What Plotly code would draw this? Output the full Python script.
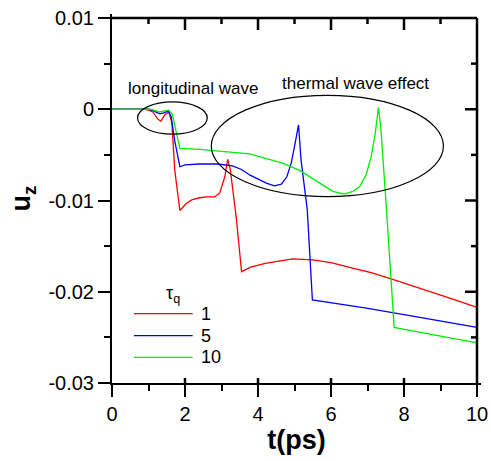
import plotly.graph_objects as go

# ---- data ----
t_tau1 = [0, 0.9, 1.0, 1.12, 1.26, 1.34, 1.45, 1.56, 1.64, 1.72, 1.86, 1.95, 2.04, 2.2, 2.4, 2.6,
          2.81, 2.95, 3.09, 3.17, 3.24, 3.3, 3.41, 3.55, 3.8, 4.2, 4.6, 4.95, 5.5, 6.0, 6.59,
          7.1, 7.65, 8.2, 8.78, 9.4, 10]
u_tau1 = [0, 0, -0.0001, -0.0003, -0.0011, -0.0013, -0.0006, -0.0003, -0.0015, -0.0067, -0.0111,
          -0.0107, -0.0103, -0.0099, -0.0097, -0.0096, -0.0096, -0.0092, -0.0074, -0.0055, -0.0066,
          -0.0085, -0.0121, -0.0178, -0.0173, -0.0169, -0.0166, -0.0164, -0.0165, -0.0168, -0.0174,
          -0.0179, -0.0186, -0.0193, -0.0201, -0.0209, -0.0217]

t_tau5 = [0, 1.0, 1.15, 1.31, 1.42, 1.54, 1.62, 1.72, 1.86, 2.0, 2.4, 2.9, 3.3, 3.55, 3.77, 4.23,
          4.45, 4.64, 4.79, 4.91, 5.0, 5.11, 5.18, 5.35, 5.49, 6.0, 6.97, 8.0, 9.0, 10]
u_tau5 = [0, 0, -0.0002, -0.0005, -0.0004, -0.0002, -0.0008, -0.0035, -0.0063, -0.0061, -0.0060,
          -0.0060, -0.0062, -0.0066, -0.0072, -0.0081, -0.0084, -0.0082, -0.0074, -0.0059, -0.0041,
          -0.0017, -0.0056, -0.0110, -0.0209, -0.0212, -0.0218, -0.0225, -0.0232, -0.0239]

t_tau10 = [0, 1.05, 1.3, 1.42, 1.55, 1.65, 1.75, 1.86, 2.4, 3.3, 3.77, 4.23, 4.68, 5.14, 5.5, 5.77,
           6.05, 6.37, 6.6, 6.78, 6.96, 7.1, 7.21, 7.3, 7.37, 7.52, 7.69, 7.73, 8.78, 10]
u_tau10 = [0, 0, -0.0003, -0.0002, -0.0001, -0.0005, -0.0025, -0.0043, -0.0044, -0.0047, -0.0049,
           -0.0054, -0.0059, -0.0067, -0.0076, -0.0083, -0.0090, -0.0093, -0.0090, -0.0085, -0.0072,
           -0.0052, -0.0027, 0.0002, -0.0023, -0.0110, -0.0223, -0.0239, -0.0247, -0.0256]

series_names = ["1", "5", "10"]
series_t = [t_tau1, t_tau5, t_tau10]
series_u = [u_tau1, u_tau5, u_tau10]
series_colors = ["#ff0000", "#0000ff", "#00ee00"]

y_tickvals = [-0.03, -0.02, -0.01, 0, 0.01]
y_ticktext = ["-0.03", "-0.02", "-0.01", "0", "0.01"]
x_tickvals = [0, 2, 4, 6, 8, 10]
x_ticktext = ["0", "2", "4", "6", "8", "10"]
x_minorvals = [1, 3, 5, 7, 9]
y_minorvals = [-0.025, -0.015, -0.005, 0.005]

FONT = "Liberation Sans, Arial, sans-serif"

X_MIN, X_MAX = 0, 10
Y_MIN, Y_MAX = -0.03, 0.01
FRAME_PX = 365.0   # frame size in pixels
PAD = 4            # plot area reaches a few px past the frame on top/right
AREA_PX = FRAME_PX + PAD
XPP = (X_MAX - X_MIN) / FRAME_PX
YPP = (Y_MAX - Y_MIN) / FRAME_PX
EDGE = FRAME_PX / AREA_PX       # frame edge in paper units
TPX = 1.0 / AREA_PX             # one pixel in paper units

fig = go.Figure()
for name, tt, uu, col in zip(series_names, series_t, series_u, series_colors):
    fig.add_trace(go.Scatter(x=tt, y=uu, mode="lines", name=name,
                             line=dict(color=col, width=1.3), showlegend=False))

common = dict(showgrid=False, zeroline=False, tickcolor="black", tickwidth=2, automargin=False,
              showline=True, linecolor="black", linewidth=2)

fig.update_layout(
    width=491, height=461,
    margin=dict(l=112, r=491 - 112 - int(AREA_PX), t=461 - 78 - int(AREA_PX), b=78),
    paper_bgcolor="white", plot_bgcolor="white",
    font=dict(family=FONT, color="black", size=20),
    xaxis=dict(range=[X_MIN, X_MAX + PAD * XPP], tickmode="array", tickvals=x_tickvals,
               ticktext=x_ticktext, ticks="outside", ticklen=12,
               title=dict(text="<b>t(ps)</b>", font=dict(size=27), standoff=6),
               minor=dict(ticks="outside", ticklen=6, tickwidth=2, tickcolor="black", dtick=1, tick0=0),
               **common),
    yaxis=dict(range=[Y_MIN, Y_MAX + PAD * YPP], tickmode="array", tickvals=y_tickvals,
               ticktext=y_ticktext, ticks="outside", ticklen=12,
               title=dict(text="<b>u<sub>z</sub></b>", font=dict(size=27), standoff=10),
               minor=dict(ticks="outside", ticklen=6, tickwidth=2, tickcolor="black", dtick=0.005, tick0=0),
               **common),
)

# top and right sides of the frame (paper coordinates)
frame = dict(color="#000000", width=2.5)
fig.add_shape(type="line", xref="paper", yref="paper", x0=0, x1=EDGE, y0=EDGE, y1=EDGE,
              line=frame, layer="above")
fig.add_shape(type="line", xref="paper", yref="paper", x0=EDGE, x1=EDGE, y0=0, y1=EDGE,
              line=frame, layer="above")
# inward ticks on the top and right sides at the axis tick values
for v in x_tickvals[1:-1]:
    fig.add_shape(type="line", xref="x", yref="paper", x0=v, x1=v, y0=EDGE, y1=EDGE - 12 * TPX,
                  line=frame, layer="above")
    fig.add_shape(type="line", xref="x", yref="paper", x0=v, x1=v, y0=0, y1=5 * TPX,
                  line=frame, layer="above")
for v in x_minorvals:
    fig.add_shape(type="line", xref="x", yref="paper", x0=v, x1=v, y0=EDGE, y1=EDGE - 6 * TPX,
                  line=frame, layer="above")
for v in y_tickvals[1:-1]:
    fig.add_shape(type="line", xref="paper", yref="y", x0=EDGE, x1=EDGE - 12 * TPX, y0=v, y1=v,
                  line=frame, layer="above")
for v in y_minorvals:
    fig.add_shape(type="line", xref="paper", yref="y", x0=EDGE, x1=EDGE - 6 * TPX, y0=v, y1=v,
                  line=frame, layer="above")

# ellipses highlighting the wave effects
fig.add_shape(type="circle", xref="x", yref="y", x0=0.70, x1=2.61, y0=-0.00273, y1=0.0008,
              line=dict(color="black", width=1.2))
fig.add_shape(type="circle", xref="x", yref="y", x0=2.72, x1=9.08, y0=-0.00958, y1=0.00153,
              line=dict(color="black", width=1.2))
fig.add_annotation(x=2.21, y=0.0023, xref="x", yref="y", text="longitudinal wave", showarrow=False,
                   font=dict(size=17, family=FONT, color="black"))
fig.add_annotation(x=6.67, y=0.00284, xref="x", yref="y", text="thermal wave effect", showarrow=False,
                   font=dict(size=17, family=FONT, color="black"))

# hand-built legend
fig.add_annotation(x=1.67, y=-0.0203, xref="x", yref="y", text="τ<sub>q</sub>", showarrow=False,
                   font=dict(size=18, family=FONT, color="black"))
leg_y = [-0.0224, -0.0248, -0.0272]
for name, col, ly in zip(series_names, series_colors, leg_y):
    fig.add_shape(type="line", xref="x", yref="y", x0=0.60, x1=2.21, y0=ly, y1=ly,
                  line=dict(color=col, width=1.3))
    fig.add_annotation(x=2.38, y=ly, xref="x", yref="y", text=name, showarrow=False, xanchor="left",
                       font=dict(size=18, family=FONT, color="black"))

fig.write_html("out.html")
